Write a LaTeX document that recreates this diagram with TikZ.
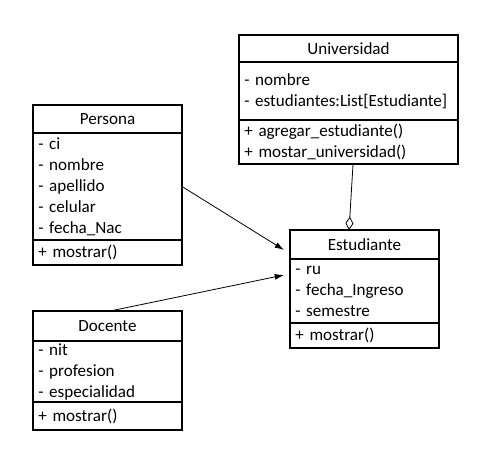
\documentclass[tikz,border=0pt]{standalone}
\usepackage{fontspec}
\setmainfont{Carlito}
\usetikzlibrary{positioning,arrows.meta}

\begin{document}
\begin{tikzpicture}[x=0.75pt, y=-0.75pt,
        title/.style={draw, rectangle, line width=0.9pt, outer sep=0pt, anchor=north, inner xsep=4pt, inner ysep=0pt, align=center, font=\fontsize{12.8}{15.75}\selectfont},
        part/.style={draw, rectangle, line width=0.9pt, outer sep=0pt, inner xsep=4pt, inner ysep=0pt, align=left, font=\fontsize{12.8}{15.75}\selectfont},
        narrow/.style={minimum width=111.75pt, text width=103.75pt},
        wide/.style={minimum width=164.25pt, text width=156.25pt},
        arrow/.style={-{Latex[length=7pt, width=4.5pt]}, line width=0.6pt},
        agg/.style={-{Diamond[open, length=10pt, width=6pt]}, line width=0.6pt}
    ]
        \useasboundingbox (0,0) rectangle (491,460);

        \node[title, wide, minimum height=20.25pt] (universidad) at (348.5,35) {Universidad};
        \node[part, wide, minimum height=43.5pt, below=0pt of universidad] (universidadAt) {- nombre \\ - estudiantes:List[Estudiante] \\[3pt]};
        \node[part, wide, minimum height=33pt, below=0pt of universidadAt] (universidadOp) {+ agregar\_estudiante() \\ + mostar\_universidad()};

        \node[title, narrow, minimum height=21pt] (persona) at (107.5,105) {Persona};
        \node[part, narrow, minimum height=80.25pt, below=0pt of persona] (personaAt) {- ci \\ - nombre \\ - apellido \\ - celular \\ - fecha\_Nac};
        \node[part, narrow, minimum height=18.75pt, below=0pt of personaAt] (personaOp) {+ mostrar()};

        \node[title, narrow, minimum height=21.75pt] (estudiante) at (364.5,230) {Estudiante};
        \node[part, narrow, minimum height=48pt, below=0pt of estudiante] (estudianteAt) {- ru \\ - fecha\_Ingreso \\ - semestre};
        \node[part, narrow, minimum height=18.75pt, below=0pt of estudianteAt] (estudianteOp) {+ mostrar()};

        \node[title, narrow, minimum height=22.5pt] (docente) at (107.5,311) {Docente};
        \node[part, narrow, minimum height=45.75pt, below=0pt of docente] (docenteAt) {- nit \\ - profesion \\ - especialidad};
        \node[part, narrow, minimum height=21pt, below=0pt of docenteAt] (docenteOp) {+ mostrar()};

        \draw[arrow] (personaAt.east) -- ([xshift=-4.5pt, yshift=-4.1pt]estudiante.west);
        \draw[arrow] ([xshift=2pt]docente.north) -- ([xshift=-4.5pt, yshift=12pt]estudianteAt.west);
        \draw[agg] ([xshift=3.4pt]universidadOp.south) -- ([xshift=-11.6pt]estudiante.north);
    \end{tikzpicture}
\end{document}
